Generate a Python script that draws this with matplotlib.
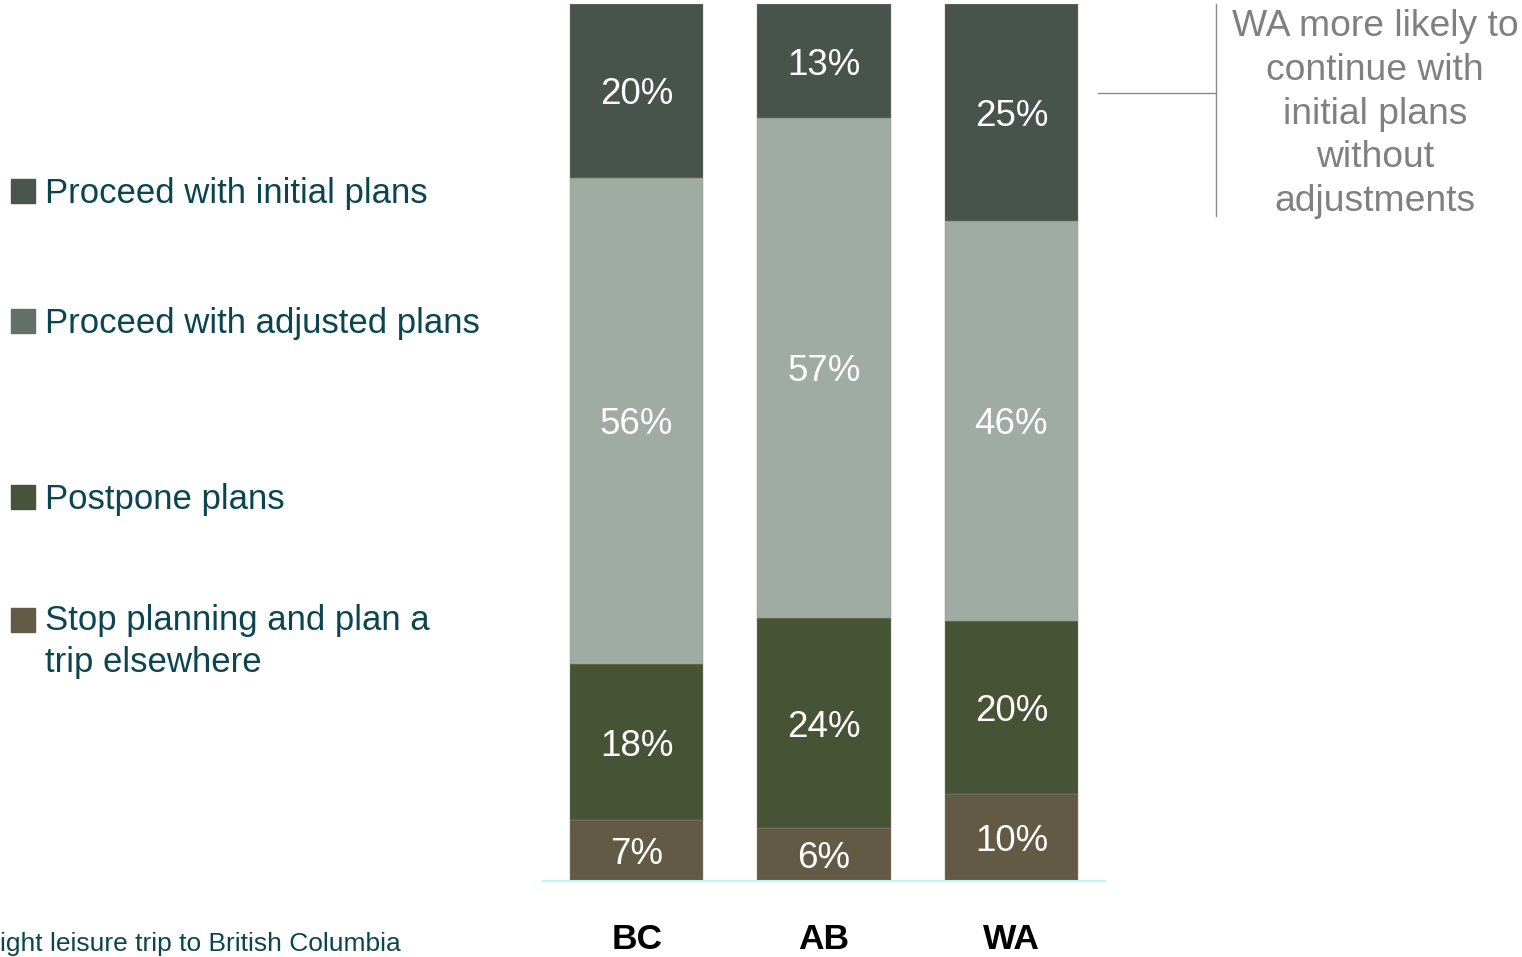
import numpy as np
import matplotlib.pyplot as plt
from matplotlib.patches import Rectangle
from matplotlib.lines import Line2D

plt.rcParams['font.family'] = ['Liberation Sans', 'DejaVu Sans']

regions = ["BC", "AB", "WA"]
series = ["Stop planning and plan a\ntrip elsewhere", "Postpone plans",
          "Proceed with adjusted plans", "Proceed with initial plans"]
# bottom to top
stop_vals = [7, 6, 10]
postpone_vals = [18, 24, 20]
adjusted_vals = [56, 57, 46]
initial_vals = [20, 13, 25]

bar_colors = ["#635A45", "#465335", "#9FABA3", "#48534C"]
legend_colors = ["#645B47", "#48533A", "#63706A", "#4A5550"]
note = "WA more likely to\ncontinue with\ninitial plans\nwithout\nadjustments"
footer = "ight leisure trip to British Columbia"

data = np.array([stop_vals, postpone_vals, adjusted_vals, initial_vals], dtype=float)
shares = data / data.sum(axis=0) * 100  # bars are 100% stacked

fig = plt.figure(figsize=(15.22, 9.57), dpi=100)
ax = fig.add_axes([543/1522, 76/957, 562/1522, 877/957])

x = np.arange(len(regions))
bottom = np.zeros(len(regions))
for i in range(len(series)):
    ax.bar(x, shares[i], bottom=bottom, width=0.71, color=bar_colors[i],
           edgecolor="#8a8a78", linewidth=0.3)
    for j in range(len(regions)):
        ax.text(x[j], bottom[j] + shares[i][j] / 2, f"{int(data[i][j])}%",
                ha="center", va="center_baseline", color="white", fontsize=26.5)
    bottom += shares[i]

ax.set_xlim(-0.5, 2.5)
ax.set_ylim(0, 100)
ax.set_yticks([])
ax.set_xticks(x)
ax.set_xticklabels(regions, fontsize=25.5, fontweight="bold", color="black")
ax.tick_params(axis="x", length=0, pad=30)
for s in ["top", "left", "right"]:
    ax.spines[s].set_visible(False)
ax.spines["bottom"].set_color("#BFF4F7")
ax.spines["bottom"].set_linewidth(1.5)

# legend drawn by hand (uneven spacing)
leg_y = [191, 321, 497, 620]
leg_order = [3, 2, 1, 0]
for yy, k in zip(leg_y, leg_order):
    fig.patches.append(Rectangle((11/1522, 1 - (yy + 12)/957), 24/1522, 24/957,
                                 transform=fig.transFigure, color=legend_colors[k]))
    fig.text(45/1522, 1 - (yy + 2)/957, series[k], ha="left",
             va="center" if k else "top", fontsize=25, color="#0B4650",
             linespacing=1.33)
# the two-line item: first line level with its marker
fig.texts[-1].set_y(1 - 604/957)

fig.text(0, 1 - 944/957, footer, ha="left", va="center", fontsize=19, color="#0B4650")

# annotation with bracket line
fig.add_artist(Line2D([1098/1522, 1216/1522], [1 - 93/957, 1 - 93/957],
                      color="#8C8C8C", linewidth=1))
fig.add_artist(Line2D([1216/1522, 1216/1522], [1 - 4/957, 1 - 216/957],
                      color="#8C8C8C", linewidth=1))
fig.text(1375/1522, 1 - 114/957, note, ha="center", va="center", fontsize=26.8,
         color="#808080", linespacing=1.33)

fig.savefig("out.png", dpi=100)
